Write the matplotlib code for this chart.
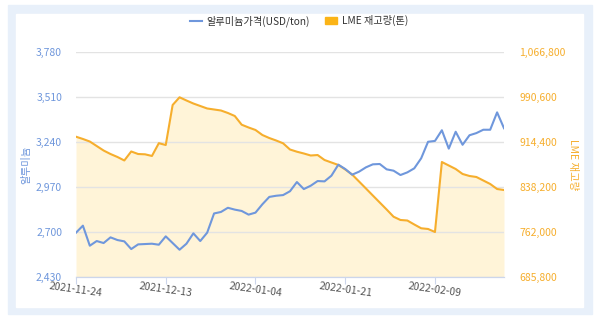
import matplotlib.pyplot as plt
import matplotlib.patches as mpatches
from matplotlib.lines import Line2D
from matplotlib.ticker import FuncFormatter
import pandas as pd

plt.rcParams['font.family'] = ['Noto Sans CJK KR', 'DejaVu Sans']

# 거래일 (LME 휴장일 제외)
holidays = ['2021-12-27', '2021-12-28', '2022-01-03']
dates = pd.bdate_range('2021-11-24', periods=63, freq='C', holidays=holidays)
date_labels = [d.strftime('%Y-%m-%d') for d in dates]
tick_idx = [0, 13, 26, 39, 52]

# 알루미늄 가격 (USD/ton)
price = [2697, 2739, 2619, 2647, 2635, 2669, 2653, 2645, 2599, 2627,
         2629, 2631, 2625, 2675, 2635, 2595, 2631, 2693, 2647, 2697,
         2812, 2821, 2846, 2835, 2827, 2805, 2817, 2867, 2911, 2918,
         2922, 2945, 3000, 2958, 2978, 3006, 3004, 3038, 3104, 3078,
         3044, 3062, 3088, 3106, 3108, 3076, 3068, 3042, 3058, 3082,
         3142, 3241, 3246, 3310, 3200, 3301, 3223, 3280, 3293, 3313,
         3313, 3417, 3322]

# LME 재고량 (톤)
stock = [923200, 919400, 915100, 907500, 899900, 894000, 889000, 883100, 898300, 894000,
         893500, 890700, 912300, 909200, 976800, 989800, 984400, 979300, 975100, 970900,
         969200, 967500, 963300, 958200, 943500, 938800, 934600, 926100, 921000, 916800,
         912100, 901600, 897900, 894900, 891500, 892300, 883900, 879700, 875500, 867900,
         859400, 847600, 835800, 823900, 812100, 800300, 788100, 782600, 781700, 775000,
         768600, 767400, 762300, 880500, 874600, 868700, 860300, 856900, 855200, 849300,
         843400, 834900, 833200]

price_ticks = [2430, 2700, 2970, 3240, 3510, 3780]
stock_ticks = [685800, 762000, 838200, 914400, 990600, 1066800]

blue = '#6f97dc'
orange = '#f6ae2d'
fill_col = '#fff4d8'
axis_col = '#ccd6eb'

fig = plt.figure(figsize=(6, 3.23), dpi=100)

# 바깥 테두리와 흰 패널
fig.patches.append(mpatches.Rectangle((8 / 600, 9 / 323), 584 / 600, 309 / 323,
                                      transform=fig.transFigure, color='#e8f0fa', zorder=-2))
fig.patches.append(mpatches.Rectangle((16 / 600, 16 / 323), 567 / 600, 293 / 323,
                                      transform=fig.transFigure, color='white', zorder=-1))

ax1 = fig.add_axes([76 / 600, 1 - 277.3 / 323, 428 / 600, 225.6 / 323])
ax2 = ax1.twinx()
ax1.set_zorder(ax2.get_zorder() + 1)
ax1.patch.set_visible(False)
ax2.patch.set_visible(False)

x = list(range(len(dates)))

# 재고량 (오른쪽 축)
ax2.fill_between(x, stock, stock_ticks[0], color=fill_col, linewidth=0, zorder=1)
ax2.plot(x, stock, color=orange, linewidth=1.5, zorder=2)
ax2.set_ylim(stock_ticks[0], stock_ticks[-1])
ax2.set_yticks(stock_ticks)
ax2.grid(axis='y', color='#e3e3e3', linewidth=1)

# 가격 (왼쪽 축)
ax1.plot(x, price, color=blue, linewidth=1.5)
ax1.set_ylim(price_ticks[0], price_ticks[-1])
ax1.set_yticks(price_ticks)
ax1.set_xlim(0, len(dates) - 1)
ax1.set_xticks(tick_idx)
ax1.set_xticklabels([date_labels[i] for i in tick_idx], rotation=-8, ha='center')

fmt = FuncFormatter(lambda v, p: f'{int(v):,}')
ax1.yaxis.set_major_formatter(fmt)
ax2.yaxis.set_major_formatter(fmt)

for ax in (ax1, ax2):
    for s in ('top', 'left', 'right'):
        ax.spines[s].set_visible(False)
    ax.spines['bottom'].set_color(axis_col)

ax1.tick_params(axis='y', length=0, labelcolor=blue, labelsize=7.5, pad=10)
ax2.tick_params(axis='y', length=0, labelcolor=orange, labelsize=7.5, pad=11)
ax1.tick_params(axis='x', length=5, color=axis_col, labelcolor='#555555', labelsize=7.5, pad=-2)

fig.text(26 / 600, 1 - 165 / 323, '알루미늄', rotation=90, ha='center', va='center',
         color=blue, fontsize=7.5)
fig.text(573 / 600, 1 - 165 / 323, 'LME 재고량', rotation=270, ha='center', va='center',
         color=orange, fontsize=7.5)

handles = [Line2D([], [], color=blue, linewidth=1.5),
           mpatches.Patch(color='#fbb417')]
fig.legend(handles, ['알루미늄가격(USD/ton)', 'LME 재고량(톤)'], loc='center',
           bbox_to_anchor=(0.498, 1 - 21 / 323), ncol=2, frameon=False,
           prop={'size': 7.3, 'weight': 'medium'}, handlelength=1.2, handletextpad=0.45,
           columnspacing=1.5, labelcolor='#333333')

fig.savefig('out.png', dpi=100)
